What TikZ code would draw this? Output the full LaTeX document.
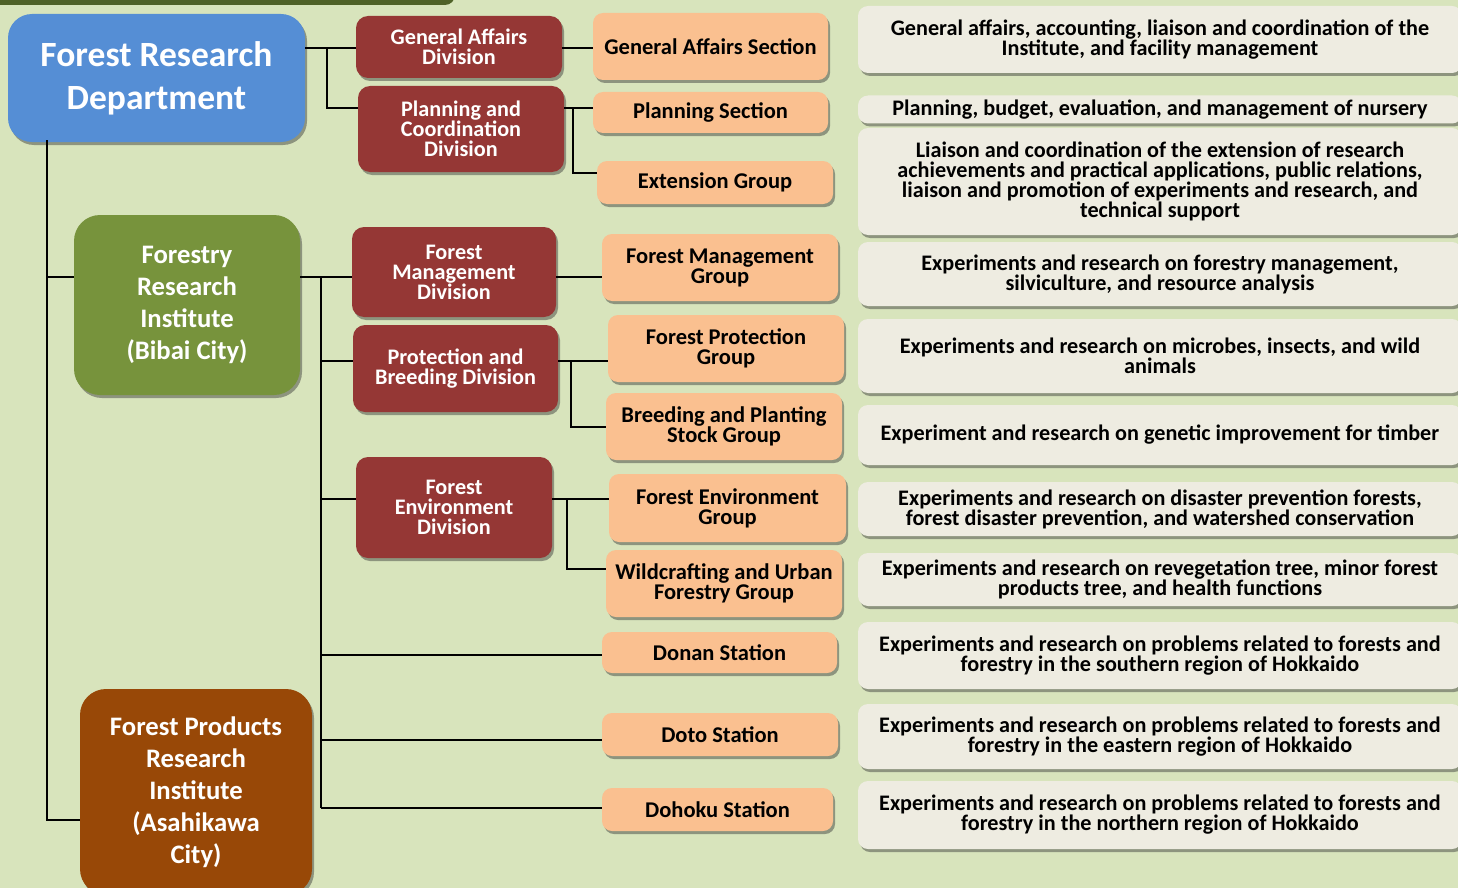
\documentclass[tikz,border=0pt]{standalone}
\usepackage{fontspec}
\setmainfont{Carlito}
\usepackage{tikz}
\usetikzlibrary{shadows,calc}

\definecolor{bgcol}{HTML}{D8E4BC}
\definecolor{topbar}{HTML}{4F6228}
\definecolor{deptblue}{HTML}{558ED5}
\definecolor{instgreen}{HTML}{77933C}
\definecolor{instbrown}{HTML}{984807}
\definecolor{divred}{HTML}{953735}
\definecolor{secorange}{HTML}{FAC090}
\definecolor{desccol}{HTML}{EEECE1}

\tikzset{
  box/.style={rounded corners=#1, align=center, inner sep=0pt, font=\bfseries,
    drop shadow={shadow xshift=2pt, shadow yshift=-3pt, opacity=0.45, fill=black!80}},
  box/.default=10pt,
  deptbox/.style={box=24pt, fill=deptblue, text=white, font=\bfseries\fontsize{35.5}{43}\selectfont},
  instbox/.style={box=26pt, text=white, font=\bfseries\fontsize{26.7}{32}\selectfont},
  divbox/.style={box=12pt, fill=divred, text=white, font=\bfseries\fontsize{22.2}{20}\selectfont},
  secbox/.style={box=10pt, fill=secorange, font=\bfseries\fontsize{22.5}{20}\selectfont},
  descbox/.style={box=10pt, fill=desccol, minimum width=604, font=\bfseries\fontsize{22.2}{20}\selectfont},
  link/.style={line width=1.3pt, black}
}

\begin{document}
\begin{tikzpicture}[x=1pt, y=-1pt]

  \useasboundingbox (0,0) rectangle (1458,888);
  \clip (0,0) rectangle (1458,888);
  \fill[bgcol] (0,0) rectangle (1458,888);
  \fill[topbar, rounded corners=10] (-20,-30) rectangle (455,5);

  % top level
  \node[deptbox, minimum width=297, minimum height=128] (dept) at (156.5,78) {Forest Research\\Department};
  \node[instbox, fill=instgreen, minimum width=226, minimum height=180] (fri) at (187,305) {Forestry\\Research\\Institute\\(Bibai City)};
  \node[instbox, fill=instbrown, minimum width=232, minimum height=206] (fpri) at (196,792) {Forest Products\\Research\\Institute\\(Asahikawa\\City)};

  % divisions
  \node[divbox, minimum width=206, minimum height=62] (gadiv) at (459,47) {General Affairs\\Division};
  \node[divbox, minimum width=206, minimum height=86] (pcdiv) at (461,129) {Planning and\\Coordination\\Division};
  \node[divbox, minimum width=204, minimum height=90] (fmdiv) at (454,272) {Forest\\Management\\Division};
  \node[divbox, minimum width=205, minimum height=87] (pbdiv) at (455.5,368.5) {Protection and\\Breeding Division};
  \node[divbox, minimum width=196, minimum height=101] (fediv) at (454,507.5) {Forest\\Environment\\Division};

  % sections, groups and stations
  \node[secbox, minimum width=235, minimum height=67] (gasec) at (710.5,46.5) {General Affairs Section};
  \node[secbox, minimum width=235, minimum height=41] (plansec) at (710.5,112.5) {Planning Section};
  \node[secbox, minimum width=236, minimum height=43] (extgrp) at (715,182.5) {Extension Group};
  \node[secbox, minimum width=236, minimum height=67] (fmgrp) at (720,267.5) {Forest Management\\Group};
  \node[secbox, minimum width=236, minimum height=67] (fpgrp) at (726,348.5) {Forest Protection\\Group};
  \node[secbox, minimum width=236, minimum height=67] (bpgrp) at (724,426.5) {Breeding and Planting\\Stock Group};
  \node[secbox, minimum width=237, minimum height=68] (fegrp) at (727.5,508) {Forest Environment\\Group};
  \node[secbox, minimum width=236, minimum height=67] (wugrp) at (724,583.5) {Wildcrafting and Urban\\Forestry Group};
  \node[secbox, minimum width=235, minimum height=41] (donan) at (719.5,652.5) {Donan Station};
  \node[secbox, minimum width=236, minimum height=43] (doto) at (720,734.5) {Doto Station};
  \node[secbox, minimum width=231, minimum height=43] (dohoku) at (717.5,809.5) {Dohoku Station};

  % duties
  \node[descbox, minimum height=67] (gadesc) at (1160,39.5) {General affairs, accounting, liaison and coordination of the\\Institute, and facility management};
  \node[descbox, minimum height=28] (plandesc) at (1160,109.5) {Planning, budget, evaluation, and management of nursery};
  \node[descbox, minimum height=107] (extdesc) at (1160,181.5) {Liaison and coordination of the extension of research\\achievements and practical applications, public relations,\\liaison and promotion of experiments and research, and\\technical support};
  \node[descbox, minimum height=64] (fmdesc) at (1160,274) {Experiments and research on forestry management,\\silviculture, and resource analysis};
  \node[descbox, minimum height=74] (fpdesc) at (1160,356) {Experiments and research on microbes, insects, and wild\\animals};
  \node[descbox, minimum height=60] (bpdesc) at (1160,435) {Experiment and research on genetic improvement for timber};
  \node[descbox, minimum height=54] (fedesc) at (1160,509) {Experiments and research on disaster prevention forests,\\forest disaster prevention, and watershed conservation};
  \node[descbox, minimum height=53] (wudesc) at (1160,579.5) {Experiments and research on revegetation tree, minor forest\\products tree, and health functions};
  \node[descbox, minimum height=67] (donandesc) at (1160,655.5) {Experiments and research on problems related to forests and\\forestry in the southern region of Hokkaido};
  \node[descbox, minimum height=65] (dotodesc) at (1160,736.5) {Experiments and research on problems related to forests and\\forestry in the eastern region of Hokkaido};
  \node[descbox, minimum height=68] (dohokudesc) at (1160,815) {Experiments and research on problems related to forests and\\forestry in the northern region of Hokkaido};

  % junctions
  \coordinate (ja) at (327,48);
  \coordinate (jb) at (327,108);
  \coordinate (jc) at (573,108);
  \coordinate (jd) at (573,173);
  \coordinate (spine) at (47,140);
  \coordinate (je) at (47,277);
  \coordinate (jf) at (47,820);
  \coordinate (jg) at (321,277);
  \coordinate (jh) at (321,361);
  \coordinate (ji) at (321,499);
  \coordinate (jj) at (321,655);
  \coordinate (jk) at (321,740);
  \coordinate (jl) at (321,808);
  \coordinate (jm) at (571,361);
  \coordinate (jn) at (571,427);
  \coordinate (jo) at (567,499);
  \coordinate (jp) at (567,569);

  % department
  \draw[link] (dept.east |- ja) -- (gadiv.west |- ja);
  \draw[link] (ja) -- (jb) -- (pcdiv.west |- jb);
  \draw[link] (gadiv.east |- ja) -- (gasec.west |- ja);
  \draw[link] (pcdiv.east |- jc) -- (plansec.west |- jc);
  \draw[link] (jc) -- (jd) -- (extgrp.west |- jd);
  \draw[link] (spine) -- (jf) -- (fpri.west |- jf);
  \draw[link] (je) -- (fri.west |- je);

  % forestry research institute
  \draw[link] (fri.east |- jg) -- (fmdiv.west |- jg);
  \draw[link] (jg) -- (jl);
  \draw[link] (jh) -- (pbdiv.west |- jh);
  \draw[link] (ji) -- (fediv.west |- ji);
  \draw[link] (jj) -- (donan.west |- jj);
  \draw[link] (jk) -- (doto.west |- jk);
  \draw[link] (jl) -- (dohoku.west |- jl);
  \draw[link] (fmdiv.east |- jg) -- (fmgrp.west |- jg);
  \draw[link] (pbdiv.east |- jm) -- (fpgrp.west |- jm);
  \draw[link] (jm) -- (jn) -- (bpgrp.west |- jn);
  \draw[link] (fediv.east |- jo) -- (fegrp.west |- jo);
  \draw[link] (jo) -- (jp) -- (wugrp.west |- jp);

\end{tikzpicture}
\end{document}
